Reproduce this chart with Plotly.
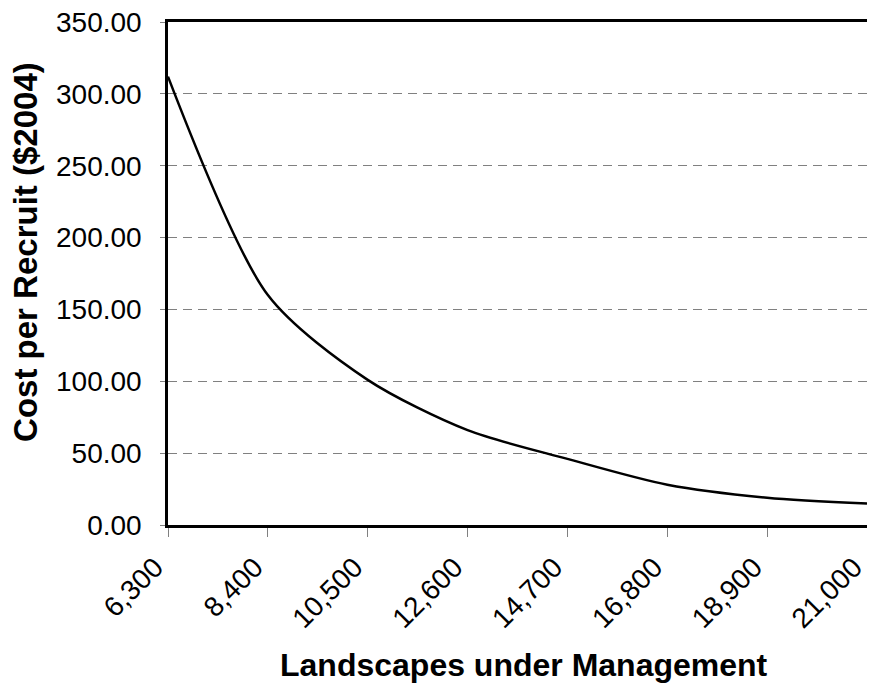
import plotly.graph_objects as go

landscapes = [6300, 8400, 10500, 12600, 14700, 16800, 18900, 21000]
cost_per_recruit = [312, 160, 101, 66, 46, 28, 19, 15]

x_ticks = [6300, 8400, 10500, 12600, 14700, 16800, 18900, 21000]
x_tick_text = ["6,300", "8,400", "10,500", "12,600", "14,700", "16,800", "18,900", "21,000"]
y_ticks = [0, 50, 100, 150, 200, 250, 300, 350]
y_tick_text = ["0.00", "50.00", "100.00", "150.00", "200.00", "250.00", "300.00", "350.00"]

x_title = "Landscapes under Management"
y_title = "Cost per Recruit ($2004)"

FONT = "Liberation Sans, Arial, sans-serif"

fig = go.Figure()
fig.add_trace(go.Scatter(
    x=landscapes, y=cost_per_recruit, mode="lines",
    line=dict(color="black", width=2.5, shape="spline", smoothing=0.8),
    showlegend=False, hoverinfo="skip"))

fig.update_layout(
    template="none",
    width=859, height=676,
    margin=dict(l=160, r=0, t=14, b=159, autoexpand=False),
    paper_bgcolor="white", plot_bgcolor="white",
    font=dict(family=FONT, color="black", size=28),
    annotations=[
        dict(text="<b>" + x_title + "</b>", xref="paper", yref="paper",
             x=0.509, y=-0.2783, xanchor="center", yanchor="middle",
             showarrow=False, font=dict(size=32)),
        dict(text="<b>" + y_title + "</b>", xref="paper", yref="paper",
             x=-0.2031, y=0.543, xanchor="center", yanchor="middle",
             textangle=-90, showarrow=False, font=dict(size=33)),
    ],
)
fig.update_xaxes(
    range=[6300, 21000], tickmode="array", tickvals=x_ticks, ticktext=x_tick_text,
    tickangle=-45, tickfont=dict(size=28), automargin=False,
    ticklabelstandoff=3, ticklabelshift=-13, ticklabeloverflow="allow",
    showgrid=False, zeroline=False,
    showline=True, linecolor="black", linewidth=2.5, mirror=True,
    ticks="outside", ticklen=9, tickcolor="#808080", tickwidth=1,
)
fig.update_yaxes(
    range=[0, 350], tickmode="array", tickvals=y_ticks, ticktext=y_tick_text,
    tickfont=dict(size=28), ticklabeloverflow="allow", automargin=False,
    showgrid=True, gridcolor="#808080", gridwidth=1, griddash="9px,6px",
    zeroline=False,
    showline=True, linecolor="black", linewidth=2.5, mirror=False,
    ticks="outside", ticklen=5, tickcolor="#808080", tickwidth=1,
    ticklabelstandoff=13,
)

fig.write_html("out.html")
